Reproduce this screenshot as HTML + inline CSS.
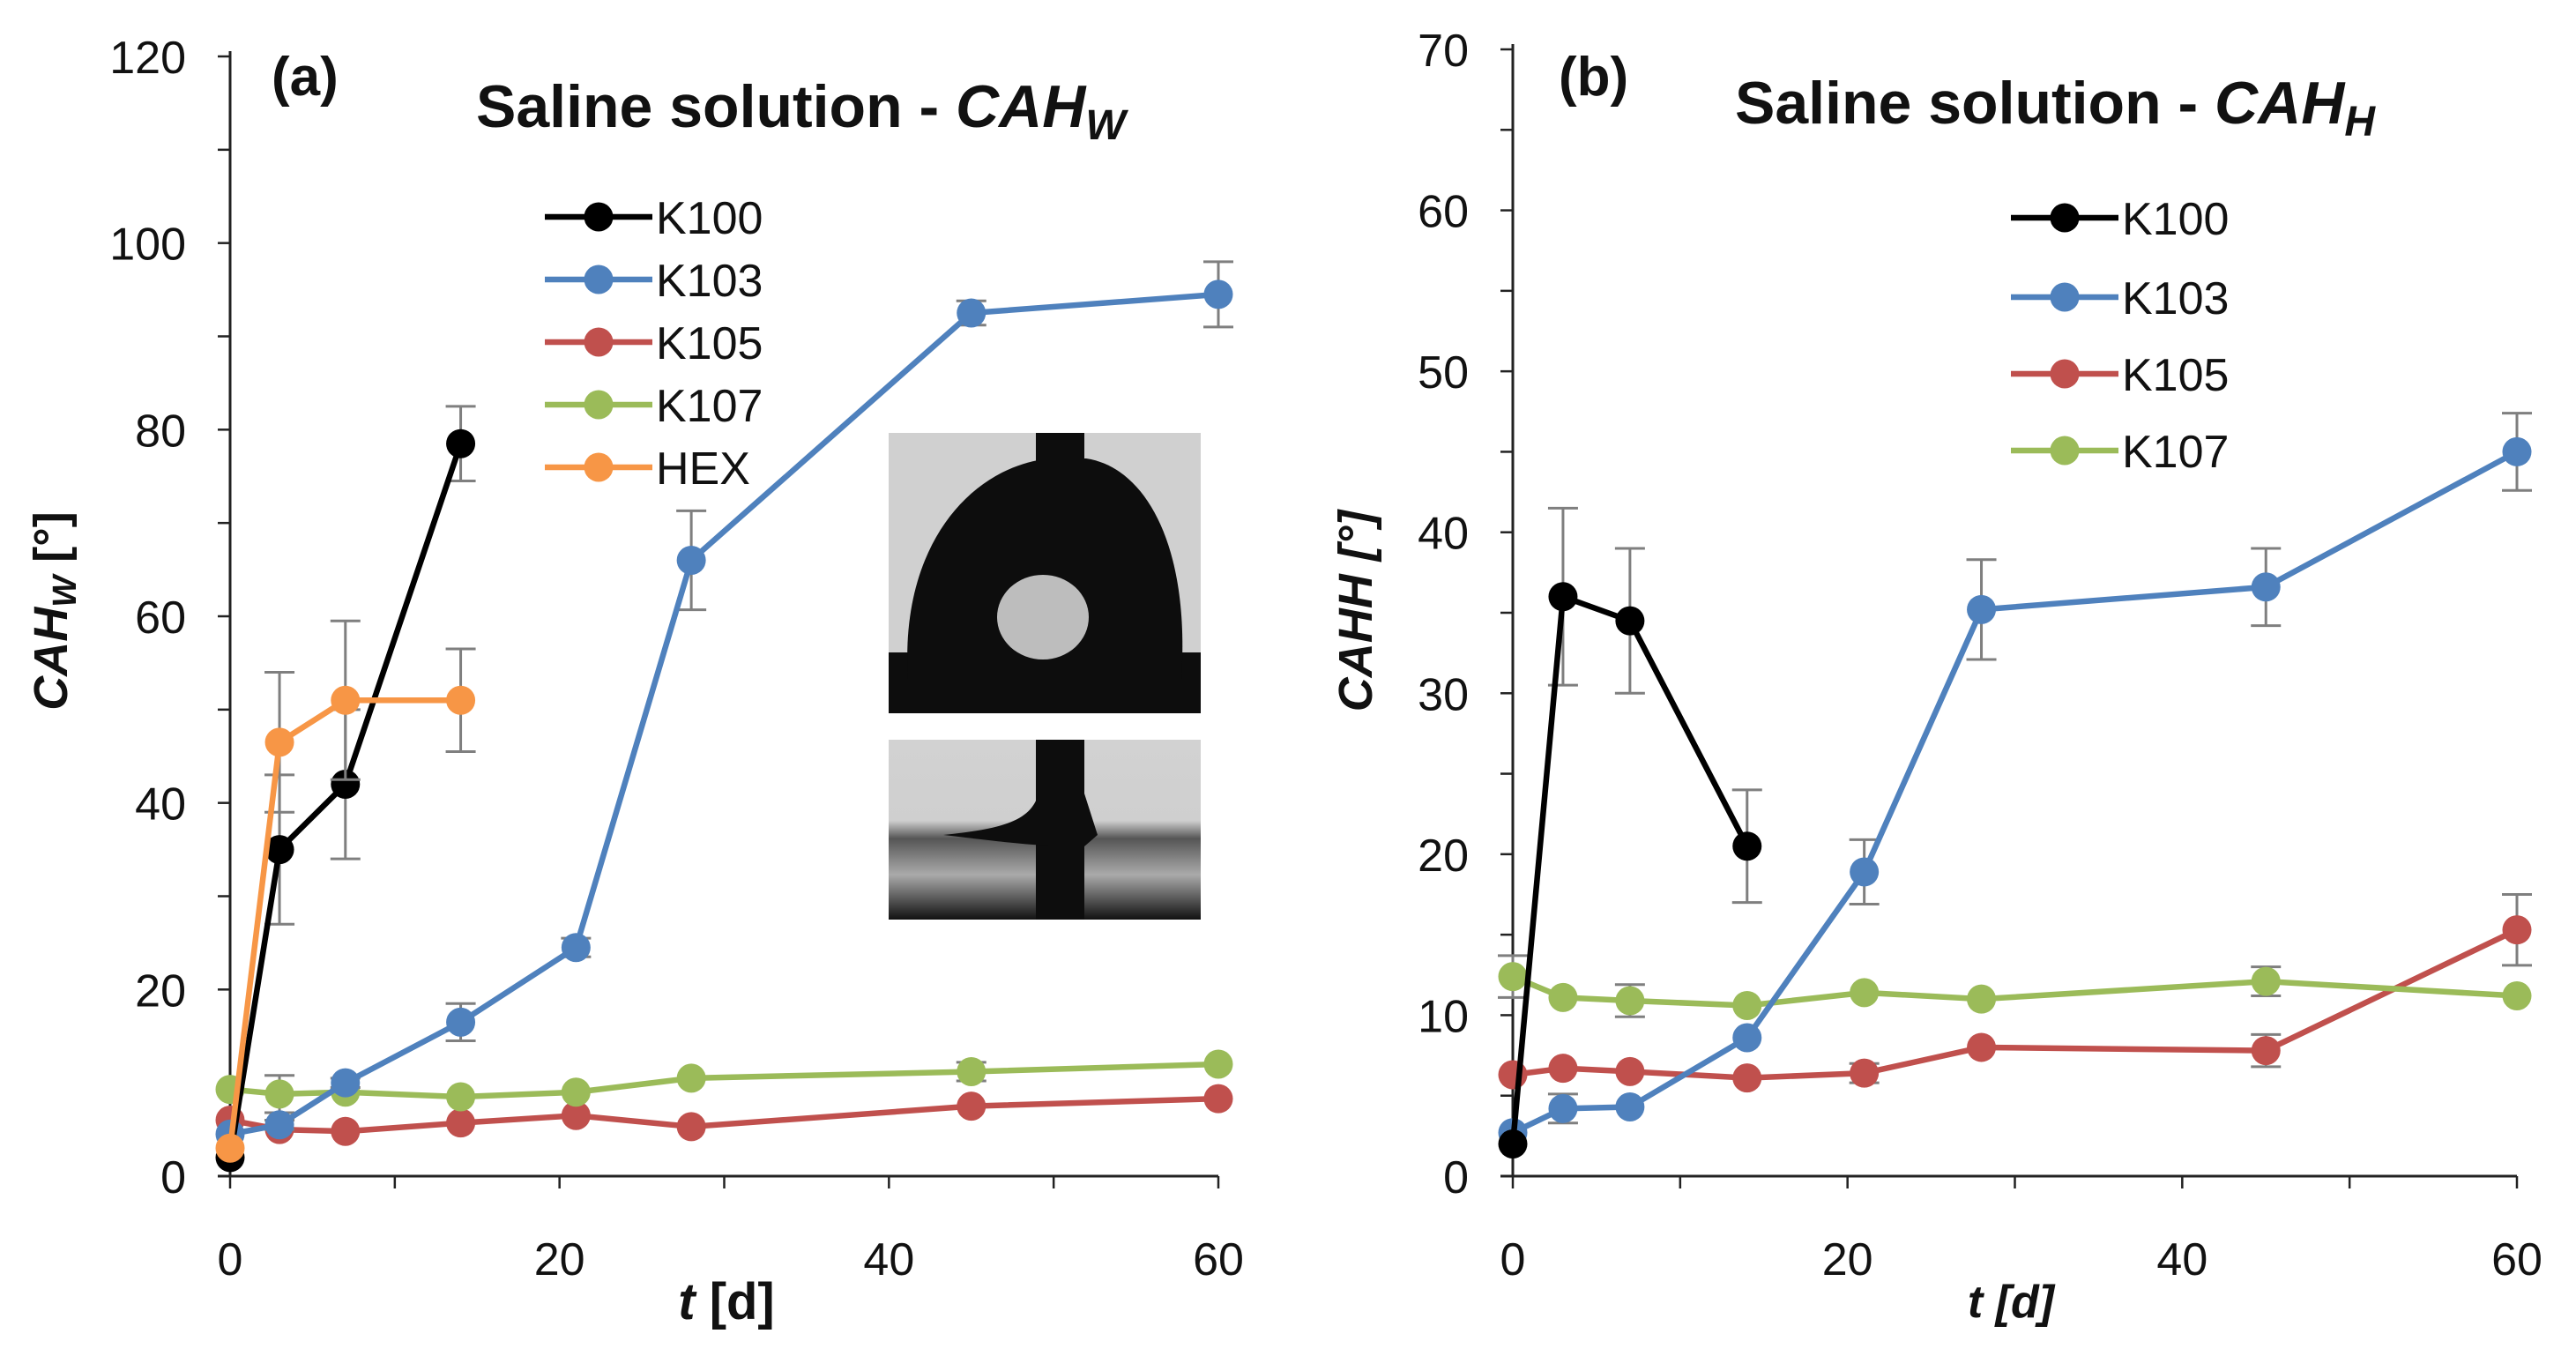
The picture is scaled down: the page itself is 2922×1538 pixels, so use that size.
<!DOCTYPE html>
<html><head><meta charset="utf-8"><style>
body{margin:0;background:#fff}
svg{display:block;font-family:"Liberation Sans",sans-serif}
</style></head><body>
<svg id="chart" width="2922" height="1538" viewBox="0 0 2922 1538" xmlns="http://www.w3.org/2000/svg">
<defs>
<linearGradient id="gbg" x1="0" y1="0" x2="0" y2="1">
<stop offset="0" stop-color="#d2d2d2"/><stop offset="0.45" stop-color="#cfcfcf"/><stop offset="0.55" stop-color="#555"/><stop offset="0.75" stop-color="#aaa"/><stop offset="1" stop-color="#111"/>
</linearGradient>
</defs>
<g id="pa"></g>
<g id="pb"></g>
<g>
<rect x="1008" y="491" width="354" height="318" fill="#d0d0d0"/>
<rect x="1008" y="740" width="354" height="69" fill="#0d0d0d"/>
<path d="M1030 770 C1020 620 1100 530 1190 520 L1232 520 C1300 530 1350 620 1340 770 Z" fill="#0d0d0d"/>
<rect x="1175" y="491" width="55" height="40" fill="#0d0d0d"/>
<ellipse cx="1183" cy="700" rx="52" ry="48" fill="#ddd" opacity="0.85"/>
<rect x="1008" y="839" width="354" height="204" fill="url(#gbg)"/>
<rect x="1175" y="839" width="55" height="204" fill="#0d0d0d"/>
<path d="M1070 947 C1140 940 1170 930 1178 900 L1230 900 L1245 947 L1230 960 C1170 960 1140 955 1070 947 Z" fill="#0d0d0d"/>
</g>
</svg>
<script>
const tDays = [0, 3, 7, 14, 21, 28, 45, 60];
const aK100 = [2, 35, 42, 78.5];
const aK100err = [0, 8, 8, 4];
const aK103 = [4.5, 5.5, 10, 16.5, 24.5, 66, 92.5, 94.5];
const aK103err = [0, 0.5, 0.5, 2, 1, 5.3, 1.3, 3.5];
const aK105 = [6, 5, 4.8, 5.7, 6.5, 5.3, 7.5, 8.3];
const aK105err = [0, 0, 0, 0, 0, 0, 0, 0];
const aK107 = [9.3, 8.8, 9, 8.5, 9, 10.5, 11.2, 12];
const aK107err = [0, 2, 0, 0, 0, 0, 1, 0];
const aHEX = [3, 46.5, 51, 51];
const aHEXerr = [0, 7.5, 8.5, 5.5];
const bK100 = [2, 36, 34.5, 20.5];
const bK100err = [0, 5.5, 4.5, 3.5];
const bK103 = [2.7, 4.2, 4.3, 8.6, 18.9, 35.2, 36.6, 45];
const bK103err = [0, 0.9, 0, 0, 2, 3.1, 2.4, 2.4];
const bK105 = [6.3, 6.7, 6.5, 6.1, 6.4, 8, 7.8, 15.3];
const bK105err = [0, 0, 0, 0, 0.6, 0, 1, 2.2];
const bK107 = [12.4, 11.1, 10.9, 10.6, 11.4, 11, 12.1, 11.2];
const bK107err = [1.3, 0, 1, 0, 0, 0, 0.9, 0];
const xTicks = [0, 20, 40, 60];
const aYTicks = [0, 20, 40, 60, 80, 100, 120];
const bYTicks = [0, 10, 20, 30, 40, 50, 60, 70];
const C = {K100:'#000', K103:'#4f81bd', K105:'#c0504d', K107:'#9bbb59', HEX:'#f79646'};
const NS = 'http://www.w3.org/2000/svg';
function mk(p, tag, at, txt){const e=document.createElementNS(NS,tag);for(const k in at)e.setAttribute(k,at[k]);if(txt!==undefined)e.textContent=txt;p.appendChild(e);return e;}

function panel(g, o){
  const sx = v => o.x0 + (v/60)*(o.x1-o.x0);
  const sy = v => o.y0 - (v/o.ymax)*(o.y0-o.y1);
  let ax = mk(g,'line',{x1:o.x0,y1:o.y1-6,x2:o.x0,y2:o.y0,stroke:'#222','stroke-width':3});
   
  let xa = mk(g,'line',{x1:o.x0-14,y1:o.y0,x2:o.x1,y2:o.y0,stroke:'#222','stroke-width':3});
   
  for(let v=0; v<=o.ymax; v+=o.minor){ mk(g,'line',{x1:o.x0-14,y1:sy(v),x2:o.x0,y2:sy(v),stroke:'#222','stroke-width':2.5}); }
  for(let v=0; v<=60; v+=10){ mk(g,'line',{x1:sx(v),y1:o.y0,x2:sx(v),y2:o.y0+14,stroke:'#222','stroke-width':2.5}); }
  o.yTicks.forEach(v=>{const t=mk(g,'text',{x:o.x0-50,y:sy(v)+19,'font-size':52,'text-anchor':'end',fill:'#111'},String(v));
     });
  xTicks.forEach(v=>{const t=mk(g,'text',{x:sx(v),y:o.y0+112,'font-size':52,'text-anchor':'middle',fill:'#111'},String(v));
     });
  o.series.forEach(s=>{
    const sg = mk(g,'g',{});
    
    
    s.vals.forEach((v,i)=>{ const e=s.err[i]; if(e>0){const x=sx(tDays[i]);
      mk(sg,'line',{x1:x,y1:sy(v-e),x2:x,y2:sy(v+e),stroke:'#7f7f7f','stroke-width':3});
      mk(sg,'line',{x1:x-17,y1:sy(v-e),x2:x+17,y2:sy(v-e),stroke:'#7f7f7f','stroke-width':3});
      mk(sg,'line',{x1:x-17,y1:sy(v+e),x2:x+17,y2:sy(v+e),stroke:'#7f7f7f','stroke-width':3});}});
    const pts = s.vals.map((v,i)=>sx(tDays[i])+','+sy(v)).join(' ');
    const pl = mk(sg,'polyline',{points:pts,fill:'none',stroke:C[s.name],'stroke-width':6.5,'stroke-linejoin':'round'});
    
    
    s.vals.forEach((v,i)=>{const c=mk(sg,'circle',{cx:sx(tDays[i]),cy:sy(v),r:16.5,fill:C[s.name]});
      
      });
  });
  o.legendOrder.forEach((n,i)=>{const y=o.legY[i];
    const lg = mk(g,'g',{});
    
    
    mk(lg,'line',{x1:o.legX,y1:y,x2:o.legX+122,y2:y,stroke:C[n],'stroke-width':6.5});
    mk(lg,'circle',{cx:o.legX+61,cy:y,r:16.5,fill:C[n]});
    mk(lg,'text',{x:o.legX+126,y:y+19,'font-size':52,fill:'#111'},n);
  });
}

const pa = document.getElementById('pa');
panel(pa,{x0:261,x1:1382,y0:1334,y1:64,ymax:120,minor:10,yTicks:aYTicks,
  series:[{name:'K105',vals:aK105,err:aK105err},{name:'K107',vals:aK107,err:aK107err},{name:'K103',vals:aK103,err:aK103err},{name:'K100',vals:aK100,err:aK100err},{name:'HEX',vals:aHEX,err:aHEXerr}],
  legendOrder:['K100','K103','K105','K107','HEX'],legX:618,legY:[246,317,388,459,530]});
const pb = document.getElementById('pb');
panel(pb,{x0:1716,x1:2855,y0:1334,y1:56,ymax:70,minor:5,yTicks:bYTicks,
  series:[{name:'K105',vals:bK105,err:bK105err},{name:'K107',vals:bK107,err:bK107err},{name:'K103',vals:bK103,err:bK103err},{name:'K100',vals:bK100,err:bK100err}],
  legendOrder:['K100','K103','K105','K107'],legX:2281,legY:[247,337,424,511]});

let t;
t = mk(pa,'text',{x:308,y:108,'font-size':62,'font-weight':'bold',fill:'#111'},'(a)');
 
t = mk(pa,'text',{x:540,y:144,'font-size':68,'font-weight':'bold',fill:'#111'});
 
t.innerHTML='Saline solution - <tspan font-style="italic">CAH</tspan><tspan font-style="italic" font-size="48" dy="14">W</tspan>';
t = mk(pb,'text',{x:1768,y:108,'font-size':62,'font-weight':'bold',fill:'#111'},'(b)');
 
t = mk(pb,'text',{x:1968,y:140,'font-size':68,'font-weight':'bold',fill:'#111'});
 
t.innerHTML='Saline solution - <tspan font-style="italic">CAH</tspan><tspan font-style="italic" font-size="48" dy="14">H</tspan>';
t = mk(pa,'text',{x:0,y:0,'font-size':54,'font-weight':'bold',fill:'#111','text-anchor':'middle',transform:'translate(76,693) rotate(-90)'});
 
t.innerHTML='<tspan font-style="italic">CAH</tspan><tspan font-style="italic" font-size="38" dy="10">W</tspan><tspan dy="-10"> [°]</tspan>';
t = mk(pb,'text',{x:0,y:0,'font-size':54,'font-weight':'bold','font-style':'italic',fill:'#111','text-anchor':'middle',transform:'translate(1556,693) rotate(-90)'},'CAHH [°]');
 
t = mk(pa,'text',{x:824,y:1496,'font-size':58,'font-weight':'bold',fill:'#111','text-anchor':'middle'});
 
t.innerHTML='<tspan font-style="italic">t</tspan> [d]';
t = mk(pb,'text',{x:2281,y:1494,'font-size':52,'font-weight':'bold','font-style':'italic',fill:'#111','text-anchor':'middle'},'t [d]');
 
</script>
</body></html>
